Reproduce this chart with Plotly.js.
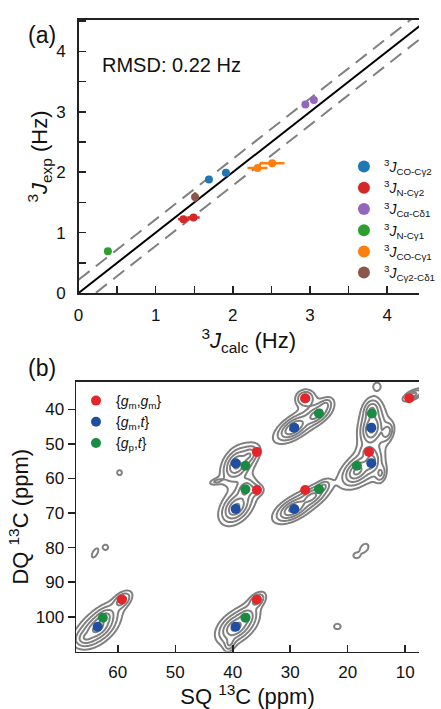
<!DOCTYPE html>
<html><head><meta charset="utf-8">
<script src="https://cdn.plot.ly/plotly-3.0.1.min.js"></script>
<style>html,body{margin:0;padding:0;background:#fff}#plot{width:441px;height:709px}</style>
</head><body><div id="plot"></div>
<script>
// ---------- Panel (a): 3J couplings ----------
const coCg2Calc = [1.69, 1.91], coCg2Exp = [1.88, 1.99], coCg2XErr = [0.04, 0.04];
const nCg2Calc = [1.36, 1.49], nCg2Exp = [1.22, 1.25], nCg2XErr = [0.07, 0.08];
const caCd1Calc = [2.94, 3.05], caCd1Exp = [3.12, 3.195];
const nCg1Calc = [0.38], nCg1Exp = [0.69], nCg1XErr = [0.04], nCg1YErr = [0.03];
const coCg1Calc = [2.32, 2.51], coCg1Exp = [2.07, 2.15], coCg1XErr = [0.13, 0.16];
const cg2Cd1Calc = [1.51], cg2Cd1Exp = [1.59], cg2Cd1YErr = [0.08];
const refX = [0, 4.6];
const rmsd = 0.22;
const aTicks = [0, 1, 2, 3, 4];
const aMinor = [0.5, 1.5, 2.5, 3.5, 4.5];

// ---------- Panel (b): SQ/DQ 13C spectrum ----------
const gmgmSQ = [27.4, 9.3, 35.8, 16.3, 35.8, 27.4, 59.3, 35.8];
const gmgmDQ = [36.8, 36.8, 52.3, 52.3, 63.3, 63.3, 95.0, 95.0];
const gmtSQ = [29.3, 15.9, 39.5, 15.9, 39.5, 29.3, 63.5, 39.5];
const gmtDQ = [45.3, 45.3, 55.6, 55.6, 68.8, 68.8, 102.9, 102.9];
const gptSQ = [25.0, 15.8, 37.8, 18.4, 37.8, 25.0, 62.6, 37.8];
const gptDQ = [41.2, 41.2, 56.3, 56.3, 63.1, 63.1, 100.3, 100.3];
const bXTicks = [60, 50, 40, 30, 20, 10];
const bYTicks = [40, 50, 60, 70, 80, 90, 100];

// spectrum peaks (centre SQ, DQ, height, widths, tilt)
const peakSQ  = [63.5, 62.3, 59.3, 65.5,  39.5, 37.8, 35.8, 40.5,  39.3, 37.2, 39.4, 37.8, 36.0, 42.8,  29.4, 25.5, 27.4, 24.0,  29.5, 26.3, 24.3,  15.8, 15.8, 13.2,  18.3, 15.9, 16.4, 14.3,  8.6,  59.7, 64.0, 62.1, 14.9, 17.1, 18.5, 21.8];
const peakDQ  = [103.2, 100.3, 95.3, 106.0,  103.0, 100.3, 95.3, 107.5,  56.0, 53.3, 68.3, 63.3, 63.3, 60.8,  45.3, 41.5, 36.8, 39.0,  68.8, 65.3, 62.5,  45.5, 40.5, 46.5,  57.8, 55.3, 52.3, 58.5,  35.8,  58.3, 81.6, 79.9, 33.3, 80.1, 82.3, 102.8];
const peakAmp = [1.0, 0.5, 0.3, 0.3,  1.0, 0.45, 0.28, 0.2,  1.0, 0.35, 0.95, 0.45, 0.2, 0.1,  1.0, 0.55, 0.3, 0.2,  1.0, 0.5, 0.2,  1.0, 0.45, 0.3,  1.0, 0.55, 0.25, 0.2,  0.25,  0.065, 0.075, 0.065, 0.07, 0.09, 0.07, 0.075];
const peakMaj = [2.2, 1.6, 1.7, 1.6,  2.1, 1.5, 1.5, 1.3,  1.9, 1.5, 2.0, 1.4, 1.1, 1.5,  2.1, 2.0, 1.4, 1.3,  2.1, 2.0, 1.3,  1.9, 1.5, 1.4,  2.0, 1.6, 1.1, 1.4,  1.75,  1.1, 1.6, 1.0, 1.1, 1.35, 1.0, 1.2];
const peakMin = [1.3, 1.05, 0.95, 1.1,  1.3, 1.05, 0.9, 0.8,  1.3, 1.0, 1.3, 1.05, 0.8, 0.55,  1.0, 1.0, 1.2, 0.8,  1.0, 1.0, 0.8,  1.25, 1.1, 0.9,  1.25, 1.1, 0.9, 0.9,  0.7,  1.1, 0.8, 1.0, 1.1, 0.95, 0.8, 0.95];
const peakAng = [35, 40, 40, 20,  32, 40, 40, 70,  55, 45, 45, 60, 0, 15,  32, 32, 10, 45,  28, 30, 40,  75, 80, 70,  40, 70, 0, 80,  25,  0, 60, 0, 0, 45, 0, 0];

// ---------- build spectrum grid ----------
const sqGrid = [], dqGrid = [];
for (let s = 68; s >= 7; s -= 0.15) sqGrid.push(+s.toFixed(3));
for (let d = 30; d <= 112; d += 0.25) dqGrid.push(+d.toFixed(3));
const dqScale = 1.75; // DQ ppm per SQ ppm of equal on-screen length
const zGrid = dqGrid.map(dq => sqGrid.map(sq => {
  let z = 0;
  for (let k = 0; k < peakSQ.length; k++) {
    const u = sq - peakSQ[k], v = (dq - peakDQ[k]) / dqScale;
    if (u * u + v * v > 150) continue;
    const t = peakAng[k] * Math.PI / 180;
    const a = u * Math.cos(t) + v * Math.sin(t);
    const b = -u * Math.sin(t) + v * Math.cos(t);
    const q = a * a / (peakMaj[k] * peakMaj[k]) + b * b / (peakMin[k] * peakMin[k]);
    z += peakAmp[k] / ((1 + q) * (1 + q));
  }
  return Math.log10(z + 1e-4);
}));

const colA = {blue: '#1f77b4', red: '#d62728', purple: '#9467bd', green: '#2ca02c', orange: '#ff7f0e', brown: '#8c564b'};
const colB = {red: '#e4262b', blue: '#1f4ea3', green: '#1a8b42'};
const FONT = 'Liberation Sans, Arial, Helvetica, sans-serif';

function aTrace(name, x, y, color, xe, ye) {
  const t = {type: 'scatter', mode: 'markers', x: x, y: y, name: name, xaxis: 'x', yaxis: 'y',
    marker: {color: color, size: 8}, legend: 'legend'};
  if (xe) t.error_x = {type: 'data', array: xe, color: color, thickness: 2.5, width: 0};
  if (ye) t.error_y = {type: 'data', array: ye, color: color, thickness: 2.5, width: 0};
  return t;
}

const traces = [
  {type: 'scatter', mode: 'lines', x: refX, y: refX.map(v => v + rmsd), xaxis: 'x', yaxis: 'y', showlegend: false,
    line: {color: '#808080', width: 2, dash: '14px,8px'}, hoverinfo: 'skip'},
  {type: 'scatter', mode: 'lines', x: refX, y: refX.map(v => v - rmsd), xaxis: 'x', yaxis: 'y', showlegend: false,
    line: {color: '#808080', width: 2, dash: '14px,8px'}, hoverinfo: 'skip'},
  {type: 'scatter', mode: 'lines', x: refX, y: refX, xaxis: 'x', yaxis: 'y', showlegend: false,
    line: {color: '#000', width: 2}, hoverinfo: 'skip'},
  aTrace('<sup>3</sup><i>J</i><sub>CO-Cγ2</sub>', coCg2Calc, coCg2Exp, colA.blue, coCg2XErr, null),
  aTrace('<sup>3</sup><i>J</i><sub>N-Cγ2</sub>', nCg2Calc, nCg2Exp, colA.red, nCg2XErr, null),
  aTrace('<sup>3</sup><i>J</i><sub>Cα-Cδ1</sub>', caCd1Calc, caCd1Exp, colA.purple, null, null),
  aTrace('<sup>3</sup><i>J</i><sub>N-Cγ1</sub>', nCg1Calc, nCg1Exp, colA.green, nCg1XErr, nCg1YErr),
  aTrace('<sup>3</sup><i>J</i><sub>CO-Cγ1</sub>', coCg1Calc, coCg1Exp, colA.orange, coCg1XErr, null),
  aTrace('<sup>3</sup><i>J</i><sub>Cγ2-Cδ1</sub>', cg2Cd1Calc, cg2Cd1Exp, colA.brown, null, cg2Cd1YErr),
  {type: 'contour', x: sqGrid, y: dqGrid, z: zGrid, xaxis: 'x2', yaxis: 'y2', showscale: false, showlegend: false,
    autocontour: false, contours: {coloring: 'none', start: -1.3, end: -0.1, size: 0.3, showlabels: false},
    line: {color: '#808080', width: 2, smoothing: 1}, hoverinfo: 'skip'},
  {type: 'scatter', mode: 'markers', x: gmgmSQ, y: gmgmDQ, xaxis: 'x2', yaxis: 'y2', name: '{<i>g</i><sub>m</sub>,<i>g</i><sub>m</sub>}',
    marker: {color: colB.red, size: 10}, legend: 'legend2'},
  {type: 'scatter', mode: 'markers', x: gmtSQ, y: gmtDQ, xaxis: 'x2', yaxis: 'y2', name: '{<i>g</i><sub>m</sub>,<i>t</i>}',
    marker: {color: colB.blue, size: 10}, legend: 'legend2'},
  {type: 'scatter', mode: 'markers', x: gptSQ, y: gptDQ, xaxis: 'x2', yaxis: 'y2', name: '{<i>g</i><sub>p</sub>,<i>t</i>}',
    marker: {color: colB.green, size: 10}, legend: 'legend2'}
];

const axCommon = {showline: true, linecolor: '#222', linewidth: 1.5, showgrid: false, zeroline: false,
  tickcolor: '#222', tickwidth: 1.5, ticklen: 7, tickfont: {size: 17, color: '#111', family: FONT}};

const layout = {
  width: 441, height: 709, margin: {l: 0, r: 0, t: 0, b: 0},
  paper_bgcolor: '#fff', plot_bgcolor: '#fff',
  font: {family: FONT, color: '#111'},
  xaxis: Object.assign({}, axCommon, {domain: [0.1875, 1], range: [0, 4.413], anchor: 'y', mirror: true,
    ticks: 'inside', tickmode: 'array', tickvals: aTicks, ticklabelstandoff: 6,
    minor: {tickmode: 'array', tickvals: aMinor, ticks: 'inside', ticklen: 7, tickwidth: 1.5, tickcolor: '#222'},
    title: {text: '<sup>3</sup><i>J</i><sub>calc</sub> (Hz)', font: {size: 22, family: FONT, color: '#111'}, standoff: 8}}),
  yaxis: Object.assign({}, axCommon, {domain: [0.5867, 0.9718], range: [0, 4.52], anchor: 'x',
    ticks: 'inside', tickmode: 'array', tickvals: aTicks, ticklabelstandoff: 8,
    minor: {tickmode: 'array', tickvals: aMinor, ticks: 'inside', ticklen: 7, tickwidth: 1.5, tickcolor: '#222'},
    title: {text: '<sup>3</sup><i>J</i><sub>exp</sub> (Hz)', font: {size: 22, family: FONT, color: '#111'}, standoff: 2}}),
  xaxis2: Object.assign({}, axCommon, {domain: [0.1814, 1], range: [67.27, 7.6], anchor: 'y2', mirror: true,
    ticks: 'inside', tickmode: 'array', tickvals: bXTicks, ticklabelstandoff: 4,
    title: {text: 'SQ <sup>13</sup>C (ppm)', font: {size: 22, family: FONT, color: '#111'}, standoff: 11}}),
  yaxis2: Object.assign({}, axCommon, {domain: [0.0808, 0.4616], range: [110.1, 32], anchor: 'x2',
    ticks: 'outside', tickmode: 'array', tickvals: bYTicks,
    title: {text: 'DQ <sup>13</sup>C (ppm)', font: {size: 22, family: FONT, color: '#111'}, standoff: 1}}),
  legend: {x: 362 / 441, y: 1 - 151 / 709, xanchor: 'left', yanchor: 'top', bgcolor: 'rgba(0,0,0,0)',
    font: {size: 14, family: FONT, color: '#111'}, itemsizing: 'constant', tracegroupgap: 0},
  legend2: {x: 80 / 441, y: 1 - 385 / 709, xanchor: 'left', yanchor: 'top', bgcolor: 'rgba(0,0,0,0)',
    font: {size: 14, family: FONT, color: '#111'}, tracegroupgap: 0},
  annotations: [
    {text: '(a)', xref: 'paper', yref: 'paper', x: 27 / 441, y: 1 - 20 / 709, showarrow: false,
      font: {size: 23, family: FONT, color: '#111'}},
    {text: '(b)', xref: 'paper', yref: 'paper', x: 27 / 441, y: 1 - 368 / 709, showarrow: false,
      font: {size: 23, family: FONT, color: '#111'}},
    {text: 'RMSD: 0.22 Hz', xref: 'paper', yref: 'paper', x: 105 / 441, y: 1 - 52 / 709, xanchor: 'left', showarrow: false,
      font: {size: 20, family: FONT, color: '#111'}}
  ]
};

Plotly.newPlot('plot', traces, layout, {staticPlot: true, displayModeBar: false});
</script></body></html>
